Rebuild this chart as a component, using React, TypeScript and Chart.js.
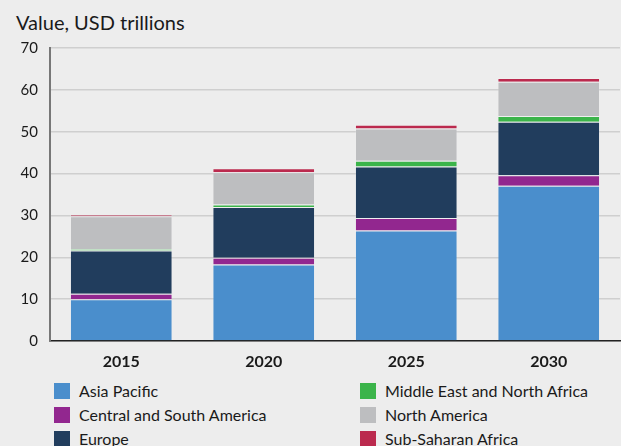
import React, { useEffect, useRef } from "react";
import { Chart, registerables } from "chart.js";

Chart.register(...registerables);

const categories = ["2015", "2020", "2025", "2030"];
const asiaPacific = [10.0, 18.3, 26.4, 37.1];
const centralSouthAmerica = [1.3, 1.6, 3.0, 2.5];
const europe = [10.3, 12.1, 12.3, 12.8];
const middleEastNorthAfrica = [0.4, 0.6, 1.35, 1.35];
const northAmerica = [7.8, 7.7, 7.7, 8.2];
const subSaharanAfrica = [0.4, 1.0, 0.9, 0.9];
const yTicks = [0, 10, 20, 30, 40, 50, 60, 70];

const seriesNames = [
  "Asia Pacific",
  "Central and South America",
  "Europe",
  "Middle East and North Africa",
  "North America",
  "Sub-Saharan Africa",
];
const seriesValues = [
  asiaPacific,
  centralSouthAmerica,
  europe,
  middleEastNorthAfrica,
  northAmerica,
  subSaharanAfrica,
];
const seriesColors = ["#4a8ecc", "#92278f", "#213d5d", "#3bb44a", "#bdbec0", "#bb2a4e"];

const FONT = "Lato, 'Noto Sans', sans-serif";

export default function App() {
  const ref = useRef<HTMLCanvasElement>(null);

  useEffect(() => {
    document.body.style.margin = "0";
    document.body.style.background = "#ededed";
    const ctx = ref.current!;
    const chart = new Chart(ctx, {
      type: "bar",
      data: {
        labels: categories,
        datasets: seriesNames.map((name, i) => ({
          label: name,
          data: seriesValues[i],
          backgroundColor: seriesColors[i],
          borderColor: "rgba(255,255,255,0.15)",
          borderWidth: 1,
          barPercentage: 0.72,
          categoryPercentage: 1,
        })),
      },
      options: {
        responsive: false,
        animation: false,
        maintainAspectRatio: false,
        layout: { padding: { top: 48, right: 1, left: 0, bottom: 0 } },
        plugins: {
          legend: { display: false },
          title: { display: false },
          tooltip: { enabled: false },
        },
        scales: {
          x: {
            stacked: true,
            grid: { display: false, drawTicks: false },
            border: { display: true, color: "#222222", width: 1.5 },
            ticks: {
              color: "#1a1a1a",
              font: { family: FONT, size: 16, weight: "bold" },
              padding: 11,
            },
            afterFit: (s: any) => {
              s.height = 372 - 341;
            },
          },
          y: {
            stacked: true,
            min: 0,
            max: 70,
            afterBuildTicks: (s: any) => {
              s.ticks = yTicks.map((v) => ({ value: v }));
            },
            grid: { color: "#cfcfcf", lineWidth: 1.5, drawTicks: false },
            border: { display: true, color: "#777777", width: 2 },
            ticks: {
              color: "#1a1a1a",
              font: { family: FONT, size: 15 },
              padding: 12,
            },
            afterFit: (s: any) => {
              s.width = 50;
            },
          },
        },
      },
    });
    return () => chart.destroy();
  }, []);

  const col1 = [0, 1, 2];
  const col2 = [3, 4, 5];
  const legendItem = (i: number, x: number, row: number) => (
    <div
      key={i}
      style={{
        position: "absolute",
        left: x,
        top: 383 + row * 24,
        height: 16,
        display: "flex",
        alignItems: "center",
        whiteSpace: "nowrap",
      }}
    >
      <span
        style={{
          display: "inline-block",
          width: 16,
          height: 16,
          background: seriesColors[i],
          marginRight: 9,
        }}
      />
      <span style={{ fontFamily: FONT, fontSize: 16, lineHeight: "16px", color: "#1a1a1a" }}>
        {seriesNames[i]}
      </span>
    </div>
  );

  return (
    <div style={{ position: "relative", width: 621, height: 446, background: "#ededed", overflow: "hidden" }}>
      <div
        style={{
          position: "absolute",
          left: 16,
          top: 12,
          fontFamily: FONT,
          fontSize: 20,
          lineHeight: "20px",
          color: "#1a1a1a",
          whiteSpace: "nowrap",
        }}
      >
        Value, USD trillions
      </div>
      <canvas
        ref={ref}
        width={621}
        height={372}
        style={{ position: "absolute", left: 0, top: 0, width: 621, height: 372 }}
      />
      {col1.map((i, r) => legendItem(i, 54, r))}
      {col2.map((i, r) => legendItem(i, 360, r))}
    </div>
  );
}
